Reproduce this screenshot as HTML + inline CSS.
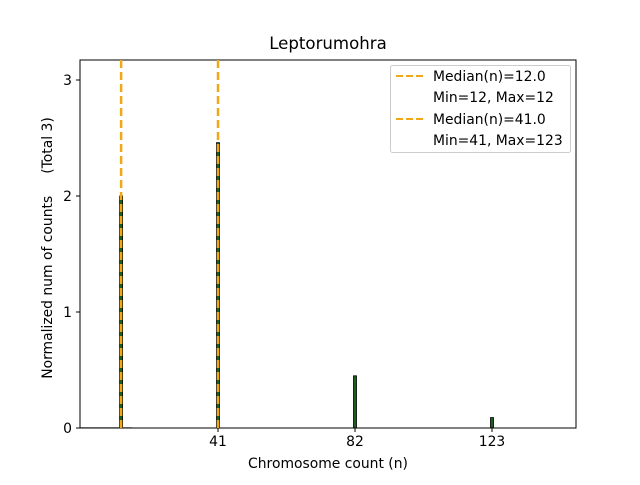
<!DOCTYPE html>
<html><head><meta charset="utf-8"><style>
body{margin:0;background:#fff}
svg{font-family:"DejaVu Sans","Liberation Sans",sans-serif}
</style></head><body>
<svg id="c" width="640" height="480" xmlns="http://www.w3.org/2000/svg">
<rect width="640" height="480" fill="#fff"/>
<text x="328" y="49" font-size="16.6" text-anchor="middle">Leptorumohra</text>
<g id="bars"></g>
<rect x="80" y="60" width="496" height="368" fill="none" stroke="#000" stroke-width="1"/>
<g id="xt" font-size="13.9"></g>
<g id="yt" font-size="13.9"></g>
<text x="328" y="468" font-size="13.9" text-anchor="middle">Chromosome count (n)</text>
<text transform="translate(52,248) rotate(-90)" font-size="13.9" text-anchor="middle" style="white-space:pre" xml:space="preserve">Normalized num of counts     (Total 3)</text>
<g id="medians"></g>
<g>
<rect x="390.5" y="65.5" width="180" height="87" rx="2" fill="#fff" stroke="#ccc"/>
<line x1="396" y1="76" x2="424" y2="76" stroke="#f0a81a" stroke-width="2" stroke-dasharray="7,3"/>
<text x="433" y="81" font-size="13.9">Median(n)=12.0</text>
<text x="433" y="102" font-size="13.9">Min=12, Max=12</text>
<line x1="396" y1="119" x2="424" y2="119" stroke="#f0a81a" stroke-width="2" stroke-dasharray="7,3"/>
<text x="433" y="124" font-size="13.9">Median(n)=41.0</text>
<text x="433" y="145" font-size="13.9">Min=41, Max=123</text>
</g>
</svg>
<script>
const binCenters=[12,41,82,123];
const binValues=[2.0,2.46,0.45,0.09];
const medianValues=[12,41];
const xTicks=[41,82,123];
const yTicks=[0,1,2,3];
const NS="http://www.w3.org/2000/svg";
const X=v=>81+v*(137/41);
const Y=v=>428-v*116;
function mk(t,a,p){const e=document.createElementNS(NS,t);for(const k in a)e.setAttribute(k,a[k]);p.appendChild(e);return e;}
const bars=document.getElementById('bars');
const gl=mk('line',{x1:80,y1:427.5,x2:132,y2:427.5,stroke:'#bbb','stroke-width':1},bars);


binCenters.forEach((c,i)=>{
 const r=mk('rect',{x:X(c)-1.5,y:Y(binValues[i]),width:3,height:Y(0)-Y(binValues[i]),fill:'#1f5c1f',stroke:'#000','stroke-width':0.8},bars);
 
 
});
const xt=document.getElementById('xt');
xTicks.forEach(t=>{
 mk('line',{x1:X(t),y1:428,x2:X(t),y2:432,stroke:'#000'},xt);
 const tx=mk('text',{x:X(t),y:446,'text-anchor':'middle'},xt);tx.textContent=t;
 
 
});
const yt=document.getElementById('yt');
yTicks.forEach(t=>{
 mk('line',{x1:76,y1:Y(t),x2:80,y2:Y(t),stroke:'#000'},yt);
 const tx=mk('text',{x:72,y:Y(t)+5,'text-anchor':'end'},yt);tx.textContent=t;
 
 
});
const med=document.getElementById('medians');
medianValues.forEach(m=>{
 const l=mk('line',{x1:X(m),y1:Y(0),x2:X(m),y2:60,stroke:'#f0a81a','stroke-width':2.5,'stroke-dasharray':'8,4'},med);
 
 
});
</script>
</body></html>
